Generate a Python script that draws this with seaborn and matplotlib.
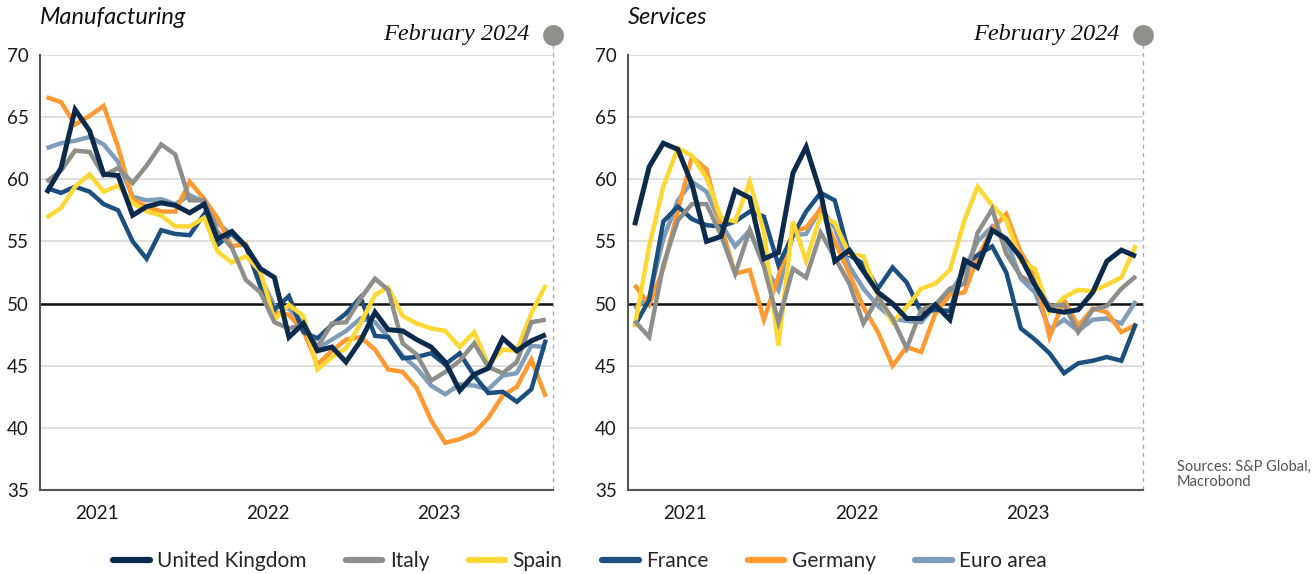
"""
Euro area / UK PMIs: manufacturing and services, Mar 2021 - Feb 2024
"""

import numpy as np
import pandas as pd
import matplotlib
matplotlib.use('Agg')
import matplotlib.pyplot as plt
import matplotlib.dates as mdates
from matplotlib.lines import Line2D
import seaborn as sns

# monthly PMI readings, March 2021 .. February 2024
start_month = '2021-03-01'
n_months = 36

countries = ['United Kingdom', 'Italy', 'Spain', 'France', 'Germany', 'Euro area']
colors = ['#0c2a4b', '#8e8e8a', '#fdd835', '#1b4f80', '#ff9a33', '#7f9cb8']

manuf_uk = [58.9, 60.9, 65.6, 63.9, 60.4, 60.3, 57.1, 57.8, 58.1, 57.9, 57.3, 58.0,
            55.2, 55.8, 54.6, 52.8, 52.1, 47.3, 48.4, 46.2, 46.5, 45.3, 47.0, 49.3,
            47.9, 47.8, 47.1, 46.5, 45.3, 43.0, 44.3, 44.8, 47.2, 46.2, 47.0, 47.5]
manuf_it = [59.8, 60.7, 62.3, 62.2, 60.3, 60.9, 59.7, 61.1, 62.8, 62.0, 58.3, 58.3,
            55.8, 54.5, 51.9, 50.9, 48.5, 48.0, 48.3, 46.5, 48.4, 48.5, 50.4, 52.0,
            51.1, 46.8, 45.9, 43.8, 44.5, 45.4, 46.8, 44.9, 44.4, 45.3, 48.5, 48.7]
manuf_es = [56.9, 57.7, 59.4, 60.4, 59.0, 59.5, 58.1, 57.4, 57.1, 56.2, 56.2, 56.9,
            54.2, 53.3, 53.8, 52.6, 48.7, 49.9, 49.0, 44.7, 45.7, 46.4, 48.4, 50.7,
            51.3, 49.0, 48.4, 48.0, 47.8, 46.5, 47.7, 45.1, 46.3, 46.2, 49.2, 51.5]
manuf_fr = [59.3, 58.9, 59.4, 59.0, 58.0, 57.5, 55.0, 53.6, 55.9, 55.6, 55.5, 57.2,
            54.7, 55.7, 54.6, 51.4, 49.5, 50.6, 47.7, 47.2, 48.3, 49.2, 50.5, 47.4,
            47.3, 45.6, 45.7, 46.0, 45.1, 46.0, 44.2, 42.8, 42.9, 42.1, 43.1, 47.1]
manuf_de = [66.6, 66.2, 64.4, 65.1, 65.9, 62.6, 58.4, 57.8, 57.4, 57.4, 59.8, 58.4,
            56.9, 54.6, 54.8, 52.0, 49.3, 49.1, 47.8, 45.1, 46.2, 47.1, 47.3, 46.3,
            44.7, 44.5, 43.2, 40.6, 38.8, 39.1, 39.6, 40.8, 42.6, 43.3, 45.5, 42.5]
manuf_ea = [62.5, 62.9, 63.1, 63.4, 62.8, 61.4, 58.6, 58.3, 58.4, 58.0, 58.7, 58.2,
            56.5, 55.5, 54.6, 52.1, 49.8, 49.6, 48.4, 46.4, 47.1, 47.8, 48.8, 48.5,
            47.3, 45.8, 44.8, 43.4, 42.7, 43.5, 43.4, 43.1, 44.2, 44.4, 46.6, 46.5]

serv_uk = [56.3, 61.0, 62.9, 62.4, 59.6, 55.0, 55.4, 59.1, 58.5, 53.6, 54.1, 60.5,
           62.6, 58.9, 53.4, 54.3, 52.6, 50.9, 50.0, 48.8, 48.8, 49.9, 48.7, 53.5,
           52.9, 55.9, 55.2, 53.7, 51.5, 49.5, 49.3, 49.5, 50.9, 53.4, 54.3, 53.8]
serv_it = [48.6, 47.3, 53.1, 56.7, 58.0, 58.0, 55.5, 52.4, 55.9, 53.0, 48.5, 52.8,
           52.1, 55.7, 53.7, 51.6, 48.4, 50.5, 48.8, 46.4, 49.5, 49.9, 51.2, 51.6,
           55.7, 57.6, 54.0, 52.2, 51.5, 49.8, 49.9, 47.7, 49.5, 49.8, 51.2, 52.2]
serv_es = [48.1, 54.6, 59.4, 62.5, 61.9, 60.1, 56.9, 56.6, 59.8, 55.8, 46.6, 56.6,
           53.4, 57.1, 56.5, 54.0, 53.8, 50.6, 48.5, 49.7, 51.2, 51.6, 52.7, 56.7,
           59.4, 57.9, 56.7, 53.4, 52.8, 49.3, 50.5, 51.1, 51.0, 51.5, 52.1, 54.7]
serv_fr = [48.2, 50.3, 56.6, 57.8, 56.8, 56.3, 56.2, 56.6, 57.4, 57.0, 53.1, 55.5,
           57.4, 58.9, 58.3, 53.9, 53.2, 51.2, 52.9, 51.7, 49.3, 49.5, 49.4, 53.1,
           53.9, 54.6, 52.5, 48.0, 47.1, 46.0, 44.4, 45.2, 45.4, 45.7, 45.4, 48.4]
serv_de = [51.5, 49.9, 52.8, 57.5, 61.8, 60.8, 56.2, 52.4, 52.7, 48.7, 52.2, 55.8,
           56.1, 57.6, 55.0, 52.4, 49.7, 47.7, 45.0, 46.5, 46.1, 49.2, 50.7, 50.9,
           53.7, 56.0, 57.2, 54.1, 52.3, 47.3, 50.3, 48.2, 49.6, 49.3, 47.7, 48.3]
serv_ea = [49.6, 50.5, 55.2, 58.3, 59.8, 59.0, 56.4, 54.6, 55.9, 53.1, 51.1, 55.5,
           55.6, 57.7, 56.1, 53.0, 51.2, 49.8, 48.8, 48.6, 48.5, 49.8, 50.8, 52.7,
           55.0, 56.2, 55.1, 52.0, 50.9, 47.9, 48.7, 47.8, 48.7, 48.8, 48.4, 50.2]

year_labels = ['2021', '2022', '2023']
y_ticks = [35, 40, 45, 50, 55, 60, 65, 70]


def to_long(series, dates):
    """Stack the country series into one long frame"""
    frames = []
    for name, vals in zip(countries, series):
        frames.append(pd.DataFrame({'date': dates, 'country': name, 'value': vals}))
    return pd.concat(frames, ignore_index=True)


def style_panel(ax, title):
    ax.set_xlim(pd.Timestamp('2021-03-01'), pd.Timestamp('2024-03-01'))
    ax.set_ylim(35, 70)
    ax.set_yticks(y_ticks)
    ax.set_xlabel('')
    ax.set_ylabel('')

    # year boundaries get tick marks, labels sit mid-year
    ax.xaxis.set_major_locator(mdates.YearLocator())
    ax.xaxis.set_major_formatter(plt.NullFormatter())
    ax.set_xticks([pd.Timestamp(f'{y}-07-01') for y in year_labels], minor=True)
    ax.set_xticklabels(year_labels, minor=True)
    ax.tick_params(axis='x', which='major', length=7, width=1.2, color='#555555', direction='out')
    ax.tick_params(axis='x', which='minor', length=0, pad=11, labelsize=13.5, labelcolor='#1a1a1a')
    ax.tick_params(axis='y', length=0, pad=8, labelsize=13.5, labelcolor='#1a1a1a')

    ax.grid(axis='y', color='#d9d9d9', lw=1.2)
    ax.grid(axis='x', visible=False)
    ax.set_axisbelow(True)
    ax.axhline(50, color='#111111', lw=1.8, zorder=1.5)

    for side in ['top', 'right']:
        ax.spines[side].set_visible(False)
    for side in ['left', 'bottom']:
        ax.spines[side].set_color('#555555')
        ax.spines[side].set_linewidth(1.5)

    # dashed marker for latest month, topped with a dot
    ax.plot([1, 1], [0, 1.046], transform=ax.transAxes, color='#aaaaaa', lw=1,
            ls=(0, (3, 3)), clip_on=False, zorder=0.5)
    ax.plot([1], [1.046], transform=ax.transAxes, marker='o', ms=15, color='#8f8f8b',
            clip_on=False, mec='none')
    ax.text(0.955, 1.046, 'February 2024', transform=ax.transAxes, ha='right', va='center',
            fontsize=17.5, fontstyle='italic', family='Liberation Serif', color='#111111')
    ax.text(0.0, 1.085, title, transform=ax.transAxes, ha='left', va='center',
            fontsize=17, fontstyle='italic', color='#111111')


sns.set_style('white')
plt.rcParams['font.family'] = ['Lato', 'DejaVu Sans']

dates = pd.date_range(start_month, periods=n_months, freq='MS') + pd.Timedelta(days=14)
manuf = to_long([manuf_uk, manuf_it, manuf_es, manuf_fr, manuf_de, manuf_ea], dates)
serv = to_long([serv_uk, serv_it, serv_es, serv_fr, serv_de, serv_ea], dates)
palette = dict(zip(countries, colors))

fig = plt.figure(figsize=(13.15, 5.74), dpi=100)
ax1 = fig.add_axes([0.0304, 0.1463, 0.390, 0.758])
ax2 = fig.add_axes([0.4776, 0.1463, 0.3916, 0.758])

# draw UK last so it sits on top
draw_order = countries[::-1]
for ax, df, title in [(ax1, manuf, 'Manufacturing'), (ax2, serv, 'Services')]:
    sns.lineplot(data=df, x='date', y='value', hue='country', hue_order=draw_order,
                 palette=palette, lw=3.2, legend=False, ax=ax)
    for line in ax.get_lines():
        line.set_solid_joinstyle('miter')
        line.set_solid_capstyle('butt')
    ax.get_lines()[-1].set_linewidth(3.6)
    style_panel(ax, title)

handles = [Line2D([0], [0], color=c, lw=4.5, solid_capstyle='round') for c in colors]
fig.legend(handles, countries, loc='center', bbox_to_anchor=(0.441, 0.0226), ncol=6,
           frameon=False, fontsize=15, handlelength=1.75, columnspacing=1.9, handletextpad=0.35)

fig.text(0.895, 0.148, 'Sources: S&P Global,\nMacrobond', fontsize=10.5, color='#555555',
         ha='left', va='bottom', linespacing=1.1)

plt.savefig('out.png', dpi=100)
plt.close()
